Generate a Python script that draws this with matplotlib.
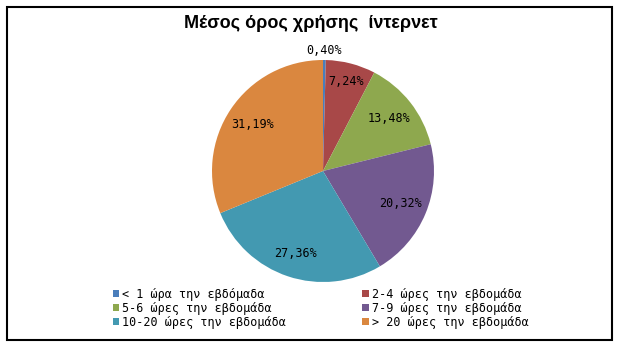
import matplotlib
matplotlib.use("Agg")
import matplotlib.pyplot as plt
from matplotlib.patches import Rectangle
import numpy as np

title = "Μέσος όρος χρήσης  ίντερνετ"
categories = ["< 1 ώρα την εβδόμαδα", "2-4 ώρες την εβδομάδα", "5-6 ώρες την εβδομάδα",
              "7-9 ώρες την εβδομάδα", "10-20 ώρες την εβδομάδα", "> 20 ώρες την εβδομάδα"]
values = [0.40, 7.24, 13.48, 20.32, 27.36, 31.19]
colors = ["#4A7EBB", "#A84848", "#8EA84E", "#725990", "#4399B1", "#DA873F"]
label_dist = [1.09, 0.83, 0.76, 0.76, 0.78, 0.76]

W, H = 619, 346
fig = plt.figure(figsize=(W / 100, H / 100), dpi=100)
fig.patch.set_facecolor("white")

# outer border
fig.add_artist(Rectangle((7 / W, 1 - 340 / H), (612 - 7) / W, (340 - 7) / H,
                         transform=fig.transFigure, fill=False, edgecolor="black", linewidth=1.5))

cx, cy, r = 323, 171, 111
ax = fig.add_axes([(cx - r) / W, 1 - (cy + r) / H, 2 * r / W, 2 * r / H])
wedges, texts = ax.pie(values, colors=colors, startangle=90, counterclock=False,
                       wedgeprops=dict(linewidth=0))
ax.set_xlim(-1, 1)
ax.set_ylim(-1, 1)
ax.set_aspect("equal")

mono = "DejaVu Sans Mono"
for w, v, d in zip(wedges, values, label_dist):
    ang = np.deg2rad((w.theta1 + w.theta2) / 2)
    lab = f"{v:.2f}%".replace(".", ",")
    ax.text(d * np.cos(ang), d * np.sin(ang), lab, ha="center", va="center",
            fontsize=8.5, family=mono, color="black")

fig.text(311 / W, 1 - 23 / H, title, ha="center", va="center", fontsize=13,
         fontweight="bold", family="Liberation Sans")

order = [0, 2, 4, 1, 3, 5]
leg = fig.legend([wedges[i] for i in order], [categories[i] for i in order], ncol=2,
                 loc="upper left", bbox_to_anchor=(113 / W, 1 - 288 / H), frameon=False,
                 prop=dict(family=mono, size=8.5), handlelength=0.55, handleheight=0.55,
                 handletextpad=0.25, columnspacing=6.45, labelspacing=0.08,
                 borderpad=0, borderaxespad=0)

fig.savefig("out.png", dpi=100)
